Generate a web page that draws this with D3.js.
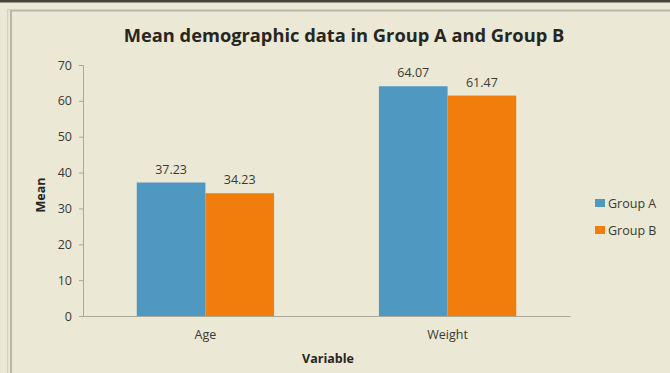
<!DOCTYPE html>
<html>
<head>
<meta charset="utf-8">
<script src="https://cdn.jsdelivr.net/npm/d3@7"></script>
<style>
  html, body { margin: 0; padding: 0; background: #ebe8d6; }
  svg { display: block; font-family: "Open Sans", Lato, sans-serif; }
</style>
</head>
<body>
<svg id="chart" width="670" height="373"></svg>
<script>
// Mean values per variable for each group
const categories = ["Age", "Weight"];
const seriesNames = ["Group A", "Group B"];
const groupA = [37.23, 64.07];
const groupB = [34.23, 61.47];
const yTicks = [0, 10, 20, 30, 40, 50, 60, 70];

const colors = { "Group A": "#4f98c2", "Group B": "#f07d0c" };
const rows = categories.map((c, i) => ({ category: c, values: [
  { name: seriesNames[0], value: groupA[i] },
  { name: seriesNames[1], value: groupB[i] }
]}));

const svg = d3.select("#chart");
const W = 670, H = 373;

// page background and frame
svg.append("rect").attr("width", W).attr("height", H).attr("fill", "#ebe8d6");
svg.append("rect").attr("x", 0).attr("y", 0).attr("width", W).attr("height", 2.5).attr("fill", "#44443a");
svg.append("rect").attr("x", 7).attr("y", 9).attr("width", W).attr("height", 1.2).attr("fill", "#d3d1c0");
svg.append("rect").attr("x", 10).attr("y", 10).attr("width", W).attr("height", 1.5).attr("fill", "#b9b7a6");
svg.append("rect").attr("x", 7).attr("y", 9).attr("width", 1.2).attr("height", H).attr("fill", "#d3d1c0");
svg.append("rect").attr("x", 10).attr("y", 10).attr("width", 2).attr("height", H).attr("fill", "#b9b7a6");

const x0 = d3.scaleBand().domain(categories).range([83, 570]).paddingInner(0.433).paddingOuter(0.222);
const x1 = d3.scaleBand().domain(seriesNames).range([0, x0.bandwidth()]);
const y = d3.scaleLinear().domain([0, 70]).range([316, 65]);

const textColor = "#3a3a33";

// title
svg.append("text").attr("x", 344).attr("y", 42).attr("text-anchor", "middle")
  .attr("font-size", 18.3).attr("font-weight", "bold").attr("fill", "#262620")
  .text("Mean demographic data in Group A and Group B");

// y axis
const yAxis = svg.append("g").attr("transform", "translate(83,0)")
  .call(d3.axisLeft(y).tickValues(yTicks).tickSize(4).tickPadding(7));
yAxis.select(".domain").attr("stroke", "#a9a899");
yAxis.selectAll(".tick line").attr("stroke", "#a9a899");
yAxis.selectAll(".tick text").attr("font-size", 12.5).attr("fill", textColor).attr("font-family", "'Open Sans', sans-serif");

// x axis baseline
const xAxis = svg.append("g").attr("transform", "translate(0,316)")
  .call(d3.axisBottom(x0).tickSize(0).tickPadding(14));
xAxis.select(".domain").attr("stroke", "#a9a899");
xAxis.selectAll(".tick text").attr("font-size", 12.5).attr("fill", textColor).attr("font-family", "'Open Sans', sans-serif");

// axis titles
svg.append("text").attr("transform", "translate(45,195) rotate(-90)").attr("text-anchor", "middle")
  .attr("font-size", 12.5).attr("font-weight", "bold").attr("fill", "#262620").text("Mean");
svg.append("text").attr("x", 328).attr("y", 363).attr("text-anchor", "middle")
  .attr("font-size", 12.5).attr("font-weight", "bold").attr("fill", "#262620").text("Variable");

// bars
const groups = svg.append("g").selectAll("g").data(rows).join("g")
  .attr("transform", d => `translate(${x0(d.category)},0)`);
groups.selectAll("rect").data(d => d.values).join("rect")
  .attr("x", d => x1(d.name))
  .attr("y", d => y(d.value))
  .attr("width", x1.bandwidth())
  .attr("height", d => y(0) - y(d.value))
  .attr("fill", d => colors[d.name]);

// value labels
groups.selectAll("text").data(d => d.values).join("text")
  .attr("x", d => x1(d.name) + x1.bandwidth() / 2)
  .attr("y", d => y(d.value) - 9)
  .attr("text-anchor", "middle")
  .attr("font-size", 12.5).attr("fill", textColor)
  .text(d => d.value.toFixed(2));

// legend
const legend = svg.append("g").selectAll("g").data(seriesNames).join("g")
  .attr("transform", (d, i) => `translate(595,${199 + i * 27})`);
legend.append("rect").attr("width", 10).attr("height", 8).attr("fill", d => colors[d]);
legend.append("text").attr("x", 13).attr("y", 8.5)
  .attr("font-size", 12.5).attr("fill", textColor).text(d => d);
</script>
</body>
</html>
